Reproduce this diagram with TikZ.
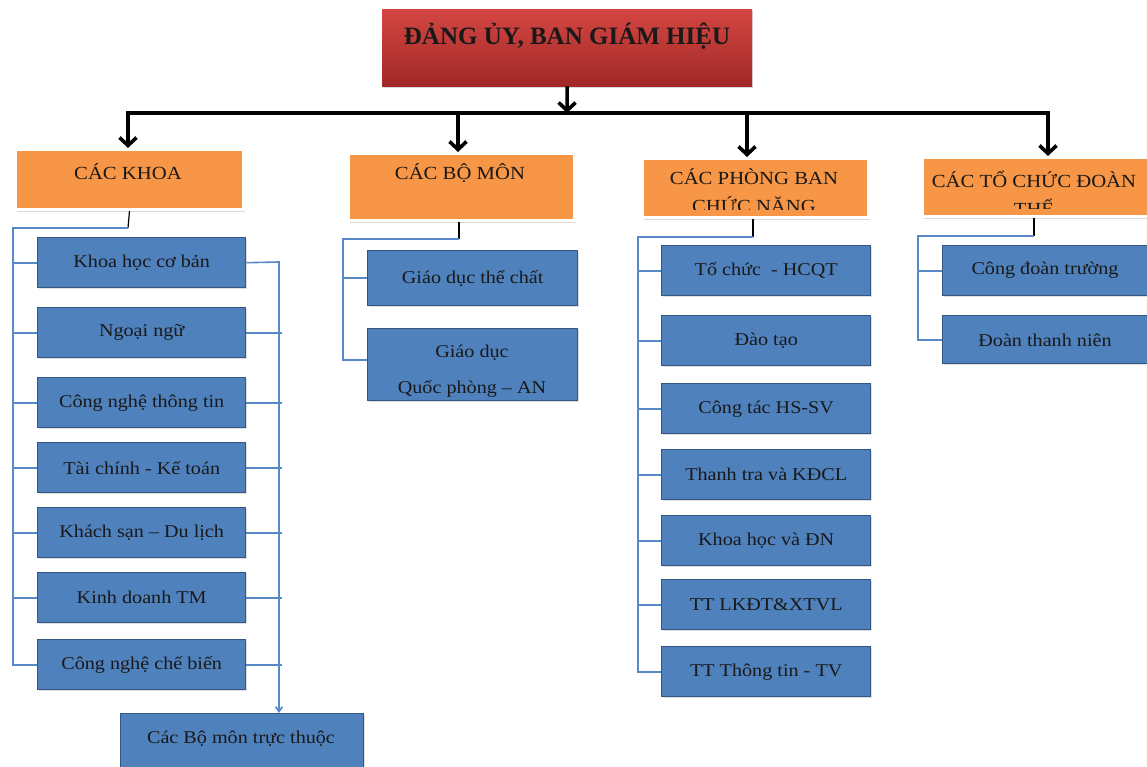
\documentclass[tikz,border=0pt]{standalone}
\usepackage{fontspec}
\setmainfont{Liberation Serif}
\newfontfamily\widefont[FakeStretch=1.12]{Liberation Serif}
\usetikzlibrary{arrows.meta,shadows,calc}
\definecolor{redtop}{RGB}{212,70,66}
\definecolor{redbot}{RGB}{160,40,38}
\definecolor{orangef}{RGB}{247,150,70}
\definecolor{bluef}{RGB}{79,129,189}
\definecolor{blued}{RGB}{52,86,130}
\definecolor{linkblue}{RGB}{88,136,200}
\tikzset{
  headbox/.style={top color=redtop, bottom color=redbot, draw=none, anchor=north west, inner sep=0pt,
    drop shadow={opacity=0.3, shadow xshift=1pt, shadow yshift=-2pt}},
  orangebox/.style={fill=orangef, draw=white, line width=3pt, anchor=north west, inner sep=0pt,
    drop shadow={opacity=0.3, shadow xshift=1pt, shadow yshift=-3pt}},
  bluebox/.style={fill=bluef, draw=blued, line width=1.4pt, anchor=north west, inner sep=0pt,
    minimum width=208pt, minimum height=50pt,
    drop shadow={opacity=0.25, shadow xshift=1pt, shadow yshift=-1.5pt}},
  btext/.style={font=\widefont\fontsize{18}{20}\selectfont, text=black!90},
  otext/.style={font=\widefont\fontsize{18.5}{28}\selectfont, text=black!90, align=center},
  trunk/.style={draw=black, line width=3.6pt, line join=miter},
  bigtip/.style={-{Straight Barb[length=8pt,width=17pt]}},
  link/.style={draw=linkblue, line width=1.6pt},
  stub/.style={draw=black, line width=1.2pt},
}
\begin{document}
\begin{tikzpicture}[x=1pt,y=-1pt]
\useasboundingbox (0,0) rectangle (1147,767);

% top box
\node[headbox, minimum width=370pt, minimum height=77pt] (top) at (382,9) {};
\node[font=\bfseries\fontsize{25}{27}\selectfont, text=black!90] (toptxt) at (567,36) {ĐẢNG ỦY, BAN GIÁM HIỆU};

% orange boxes
\node[orangebox, minimum width=228pt, minimum height=60pt] (kh) at (14,148) {};
\node[otext] (khtxt) at (128,172) {CÁC KHOA};
\node[orangebox, minimum width=226pt, minimum height=67pt] (bo) at (347,152) {};
\node[otext] (botxt) at (460,173) {CÁC BỘ MÔN};
\node[orangebox, minimum width=226pt, minimum height=59pt] (pb) at (641,157) {};
\begin{scope}
  \clip (641,157) rectangle (867,210);
  \node[otext] (pbtxt) at (754,191) {CÁC PHÒNG BAN\\CHỨC NĂNG};
\end{scope}
\node[orangebox, minimum width=228pt, minimum height=59pt] (tc) at (921,156) {};
\begin{scope}
  \clip (921,156) rectangle (1149,209);
  \node[otext] (tctxt) at (1034,193) {CÁC TỔ CHỨC ĐOÀN\\THỂ};
\end{scope}

% trunk and arrows
\coordinate (hl) at (128,113);
\coordinate (hr) at (1048,113);
\coordinate (hm) at (567,113);
\coordinate (h2) at (458,113);
\coordinate (h3) at (747,113);
\draw[trunk, {Straight Barb[length=8pt,width=17pt]}-{Straight Barb[length=8pt,width=17pt]}]
  (hl |- kh.north) -- (hl) -- (hr) -- (hr |- tc.north);
\draw[trunk, bigtip] (top.south) -- (hm);
\draw[trunk, bigtip] (h2) -- (h2 |- bo.north);
\draw[trunk, bigtip] (h3) -- (h3 |- pb.north);

% column 1: Cac khoa
\node[bluebox] (k1) at (37,237) {};
\node[btext] at (k1.center) {Khoa học cơ bản};
\node[bluebox] (k2) at (37,307) {};
\node[btext] at (k2.center) {Ngoại ngữ};
\node[bluebox] (k3) at (37,377) {};
\node[btext] at (k3.center) {Công nghệ thông tin};
\node[bluebox] (k4) at (37,442) {};
\node[btext] at (k4.center) {Tài chính - Kế toán};
\node[bluebox] (k5) at (37,507) {};
\node[btext] at (k5.center) {Khách sạn – Du lịch};
\node[bluebox] (k6) at (37,572) {};
\node[btext] at (k6.center) {Kinh doanh TM};
\node[bluebox] (k7) at (37,639) {};
\node[btext] at (k7.center) {Công nghệ chế biến};
\node[bluebox, minimum width=243pt, minimum height=58pt] (bm) at (120,713) {};
\node[btext] at (241,739) {Các Bộ môn trực thuộc};

\coordinate (kc) at (128,228);
\coordinate (kl) at (13,228);
\draw[stub] (kh.south) -- (kc);
\draw[link] (kc) -- (kl) |- (k7.west);
\foreach \n in {k1,k2,k3,k4,k5,k6} \draw[link] (kl |- \n.west) -- (\n.west);
\coordinate (kr) at (279,262);
\draw[link, -{Straight Barb[length=5pt,width=7pt]}] (k1.east) -- (kr) -- (kr |- bm.north);
\foreach \n in {k2,k3,k4,k5,k6,k7} \draw[link] (\n.east) -- ($(kr |- \n.east)+(3,0)$);

% column 2: Cac bo mon
\node[bluebox, minimum width=210pt, minimum height=55pt] (b1) at (367,250) {};
\node[btext] at (b1.center) {Giáo dục thể chất};
\node[bluebox, minimum width=210pt, minimum height=72pt] (b2) at (367,328) {};
\begin{scope}
  \clip (367,328) rectangle (577,398);
  \node[btext, align=center, font=\widefont\fontsize{18}{36}\selectfont] (b2txt) at (472,371) {Giáo dục\\Quốc phòng – AN};
\end{scope}
\coordinate (bc) at (459,239);
\coordinate (bl) at (343,239);
\draw[stub] (bc |- bo.south) -- (bc);
\draw[link] (bc) -- (bl) |- ($(b2.west)+(0,-5)$);
\draw[link] (bl |- b1.west) -- (b1.west);

% column 3: Cac phong ban
\node[bluebox, minimum width=209pt] (p1) at (661,245) {};
\node[btext] at (p1.center) {Tổ chức ~- HCQT};
\node[bluebox, minimum width=209pt] (p2) at (661,315) {};
\node[btext] at (p2.center) {Đào tạo};
\node[bluebox, minimum width=209pt] (p3) at (661,383) {};
\node[btext] at (p3.center) {Công tác HS-SV};
\node[bluebox, minimum width=209pt] (p4) at (661,449) {};
\node[btext] at (p4.center) {Thanh tra và KĐCL};
\node[bluebox, minimum width=209pt] (p5) at (661,515) {};
\node[btext] at (p5.center) {Khoa học và ĐN};
\node[bluebox, minimum width=209pt] (p6) at (661,579) {};
\node[btext] at (p6.center) {TT LKĐT\&XTVL};
\node[bluebox, minimum width=209pt] (p7) at (661,646) {};
\node[btext] at (p7.center) {TT Thông tin - TV};
\coordinate (pc) at (753,237);
\coordinate (pl) at (638,237);
\draw[stub] (pc |- pb.south) -- (pc);
\draw[link] (pc) -- (pl) |- (p7.west);
\foreach \n in {p1,p2,p3,p4,p5,p6} \draw[link] (pl |- \n.west) -- (\n.west);

% column 4: Cac to chuc doan the
\node[bluebox, minimum width=207pt] (t1) at (942,245) {};
\node[btext] at (1045,270) {Công đoàn trường};
\node[bluebox, minimum width=207pt, minimum height=48pt] (t2) at (942,315) {};
\node[btext] at (1045,340) {Đoàn thanh niên};
\coordinate (tcc) at (1034,236);
\coordinate (tl) at (918,236);
\draw[stub] (tcc |- tc.south) -- (tcc);
\draw[link] (tcc) -- (tl) |- (t2.west);
\draw[link] (tl |- t1.west) -- (t1.west);
\end{tikzpicture}
\end{document}
